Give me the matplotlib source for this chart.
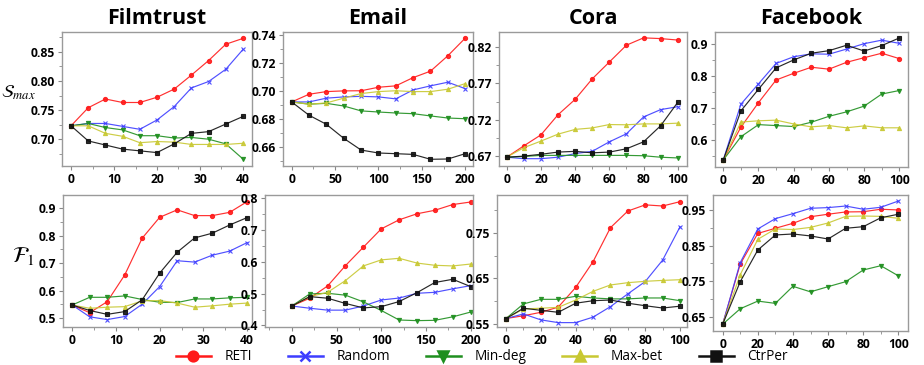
import matplotlib
matplotlib.use('Agg')
import matplotlib.pyplot as plt
from matplotlib.ticker import AutoMinorLocator

plt.rcParams['font.family'] = ['Open Sans', 'DejaVu Sans']
plt.rcParams['mathtext.fontset'] = 'stix'

methods = ['RETI', 'Random', 'Min-deg', 'Max-bet', 'CtrPer']
colors = ['#ff1a1a', '#3d3dff', '#1f8f1f', '#c8c832', '#111111']
markers = ['o', 'x', 'v', '^', 's']

datasets = ['Filmtrust', 'Email', 'Cora', 'Facebook']

x_film = [0, 4, 8, 12, 16, 20, 24, 28, 32, 36, 40]
x_email = [0, 20, 40, 60, 80, 100, 120, 140, 160, 180, 200]
x_cora = [0, 10, 20, 30, 40, 50, 60, 70, 80, 90, 100]
x_fb = [0, 10, 20, 30, 40, 50, 60, 70, 80, 90, 100]

# S_max values, order: RETI, Random, Min-deg, Max-bet, CtrPer
smax_film = [
    [0.723, 0.754, 0.769, 0.763, 0.763, 0.772, 0.786, 0.810, 0.835, 0.863, 0.873],
    [0.723, 0.727, 0.727, 0.722, 0.717, 0.733, 0.756, 0.788, 0.799, 0.820, 0.854],
    [0.723, 0.727, 0.720, 0.716, 0.706, 0.706, 0.702, 0.703, 0.700, 0.692, 0.666],
    [0.723, 0.723, 0.710, 0.705, 0.694, 0.696, 0.695, 0.691, 0.691, 0.691, 0.693],
    [0.723, 0.697, 0.690, 0.683, 0.680, 0.677, 0.692, 0.710, 0.713, 0.726, 0.739],
]
smax_email = [
    [0.692, 0.6975, 0.6994, 0.6999, 0.700, 0.7025, 0.7035, 0.7094, 0.714, 0.725, 0.7376],
    [0.692, 0.692, 0.6947, 0.6956, 0.696, 0.6956, 0.6942, 0.7006, 0.7035, 0.7061, 0.7015],
    [0.692, 0.6904, 0.691, 0.6891, 0.6856, 0.6848, 0.6841, 0.6836, 0.682, 0.6805, 0.680],
    [0.692, 0.6904, 0.6913, 0.6947, 0.698, 0.6994, 0.700, 0.6994, 0.6994, 0.7011, 0.7051],
    [0.692, 0.6825, 0.676, 0.666, 0.6576, 0.6555, 0.655, 0.6545, 0.651, 0.6512, 0.655],
]
smax_cora = [
    [0.669, 0.6845, 0.6995, 0.727, 0.748, 0.776, 0.799, 0.822, 0.832, 0.831, 0.829],
    [0.669, 0.667, 0.667, 0.669, 0.674, 0.677, 0.690, 0.701, 0.724, 0.734, 0.738],
    [0.669, 0.670, 0.6715, 0.6715, 0.6715, 0.6715, 0.6715, 0.6715, 0.671, 0.669, 0.668],
    [0.669, 0.682, 0.691, 0.7005, 0.707, 0.709, 0.7136, 0.7133, 0.7145, 0.7145, 0.7155],
    [0.669, 0.6705, 0.673, 0.676, 0.677, 0.675, 0.676, 0.6805, 0.690, 0.712, 0.744],
]
smax_fb = [
    [0.537, 0.640, 0.717, 0.788, 0.809, 0.828, 0.822, 0.8435, 0.858, 0.872, 0.855],
    [0.537, 0.712, 0.776, 0.840, 0.861, 0.870, 0.869, 0.885, 0.902, 0.913, 0.903],
    [0.537, 0.610, 0.648, 0.645, 0.642, 0.6555, 0.674, 0.688, 0.706, 0.744, 0.755],
    [0.537, 0.656, 0.660, 0.662, 0.650, 0.641, 0.645, 0.638, 0.644, 0.638, 0.638],
    [0.537, 0.691, 0.759, 0.826, 0.851, 0.872, 0.880, 0.897, 0.879, 0.896, 0.920],
]

# F1 values
f1_film = [
    [0.548, 0.520, 0.560, 0.657, 0.791, 0.867, 0.894, 0.873, 0.873, 0.885, 0.924],
    [0.548, 0.505, 0.495, 0.506, 0.551, 0.615, 0.709, 0.704, 0.729, 0.744, 0.775],
    [0.548, 0.576, 0.576, 0.581, 0.568, 0.558, 0.557, 0.570, 0.570, 0.574, 0.576],
    [0.548, 0.536, 0.540, 0.542, 0.563, 0.564, 0.555, 0.540, 0.545, 0.551, 0.555],
    [0.548, 0.528, 0.514, 0.524, 0.567, 0.664, 0.740, 0.792, 0.809, 0.839, 0.866],
]
f1_email = [
    [0.461, 0.4855, 0.524, 0.588, 0.646, 0.7035, 0.732, 0.751, 0.762, 0.780, 0.788],
    [0.461, 0.454, 0.448, 0.448, 0.461, 0.480, 0.486, 0.501, 0.504, 0.515, 0.525],
    [0.461, 0.499, 0.501, 0.495, 0.474, 0.447, 0.417, 0.415, 0.416, 0.427, 0.442],
    [0.461, 0.4905, 0.504, 0.541, 0.587, 0.606, 0.611, 0.596, 0.589, 0.587, 0.593],
    [0.461, 0.4905, 0.4855, 0.469, 0.455, 0.459, 0.475, 0.503, 0.535, 0.545, 0.522],
]
f1_cora = [
    [0.562, 0.568, 0.5756, 0.587, 0.630, 0.6865, 0.761, 0.7975, 0.811, 0.8085, 0.818],
    [0.562, 0.572, 0.559, 0.553, 0.553, 0.565, 0.588, 0.616, 0.643, 0.690, 0.763],
    [0.562, 0.594, 0.604, 0.604, 0.6107, 0.607, 0.605, 0.605, 0.607, 0.607, 0.601],
    [0.562, 0.583, 0.5845, 0.5865, 0.6025, 0.6215, 0.6355, 0.6405, 0.6435, 0.6455, 0.647],
    [0.562, 0.5845, 0.580, 0.5756, 0.5955, 0.601, 0.6025, 0.5955, 0.590, 0.585, 0.589],
]
f1_fb = [
    [0.629, 0.798, 0.884, 0.8985, 0.9125, 0.931, 0.938, 0.9444, 0.945, 0.952, 0.950],
    [0.629, 0.802, 0.8966, 0.9256, 0.9396, 0.9547, 0.9566, 0.961, 0.952, 0.9575, 0.975],
    [0.629, 0.6725, 0.694, 0.6876, 0.7355, 0.720, 0.7345, 0.7485, 0.7813, 0.7934, 0.765],
    [0.629, 0.768, 0.8675, 0.8966, 0.895, 0.901, 0.9134, 0.932, 0.933, 0.932, 0.9266],
    [0.629, 0.7485, 0.8375, 0.8797, 0.8825, 0.877, 0.8684, 0.8985, 0.903, 0.928, 0.938],
]

W, H = 924, 365
fig = plt.figure(figsize=(W / 100, H / 100), dpi=100)


def px_axes(l, t, r, b):
    return fig.add_axes([l / W, 1 - b / H, (r - l) / W, (b - t) / H])


panels = [
    # (rect, x, data, xlim, ylim, yticks, xticks, fmt)
    ((62, 32, 252, 166), x_film, smax_film, (-2.1, 42.1), (0.654, 0.884),
     [0.70, 0.75, 0.80, 0.85], [0, 10, 20, 30, 40], '%.2f'),
    ((283, 32, 473, 166), x_email, smax_email, (-10, 209), (0.6462, 0.742),
     [0.66, 0.68, 0.70, 0.72, 0.74], [0, 50, 100, 150, 200], '%.2f'),
    ((499, 32, 687, 166), x_cora, smax_cora, (-4.5, 105.4), (0.657, 0.840),
     [0.67, 0.72, 0.77, 0.82], [0, 20, 40, 60, 80, 100], '%.2f'),
    ((715, 32, 908, 167), x_fb, smax_fb, (-4.7, 104.9), (0.515, 0.9386),
     [0.6, 0.7, 0.8, 0.9], [0, 20, 40, 60, 80, 100], '%.1f'),
    ((63, 195, 252, 327), x_film, f1_film, (-2.1, 41.1), (0.468, 0.948),
     [0.5, 0.6, 0.7, 0.8, 0.9], [0, 10, 20, 30, 40], '%.1f'),
    ((265, 195, 473, 327), x_email, f1_email, (-30, 202.6), (0.395, 0.810),
     [0.4, 0.5, 0.6, 0.7, 0.8], [0, 50, 100, 150, 200], '%.1f'),
    ((497, 195, 687, 327), x_cora, f1_cora, (-5.2, 104), (0.5434, 0.8326),
     [0.55, 0.65, 0.75], [0, 20, 40, 60, 80, 100], '%.2f'),
    ((713, 195, 908, 331), x_fb, f1_fb, (-5.5, 105.5), (0.610, 0.992),
     [0.65, 0.75, 0.85, 0.95], [0, 20, 40, 60, 80, 100], '%.2f'),
]

for i, (rect, xs, data, xlim, ylim, yticks, xticks, fmt) in enumerate(panels):
    ax = px_axes(*rect)
    for k in range(5):
        ax.plot(xs, data[k], color=colors[k], marker=markers[k], lw=0.85,
                ms=3.0 if markers[k] != 'x' else 3.5, mew=0.8, alpha=0.9)
    ax.set_xlim(*xlim)
    ax.set_ylim(*ylim)
    ax.set_xticks(xticks)
    ax.set_yticks(yticks)
    ax.set_yticklabels([fmt % v for v in yticks])
    ax.xaxis.set_minor_locator(AutoMinorLocator(2))
    ax.yaxis.set_minor_locator(AutoMinorLocator(2))
    ax.tick_params(which='both', labelsize=8.7, color='#888888', direction='out')
    ax.tick_params(which='major', length=3, pad=2)
    ax.tick_params(which='minor', length=2)
    for lab in ax.get_xticklabels() + ax.get_yticklabels():
        lab.set_fontweight('bold')
    for sp in ax.spines.values():
        sp.set_color('#9a9a9a')
        sp.set_linewidth(1.0)
    if i < 4:
        ax.set_title(datasets[i], fontsize=15.5, fontweight='bold', pad=6)

fig.text(1 / W, 1 - 93 / H, r'$\mathcal{S}_{max}$', fontsize=13, ha='left', va='center')
fig.text(12 / W, 1 - 256 / H, r'$\mathcal{F}_{1}$', fontsize=16, ha='left', va='center')

leg_handles = []
for k in range(5):
    h, = plt.plot([], [], color=colors[k], marker=markers[k], lw=1.8, ms=7, mew=1.8)
    leg_handles.append(h)
fig.legend(leg_handles, methods, loc='center', bbox_to_anchor=(482 / W, 1 - 357 / H),
           ncol=5, frameon=False, fontsize=9.8, handlelength=2.6, columnspacing=2.6,
           handletextpad=1.0, borderpad=0.2)

fig.savefig('out.png', dpi=100)
